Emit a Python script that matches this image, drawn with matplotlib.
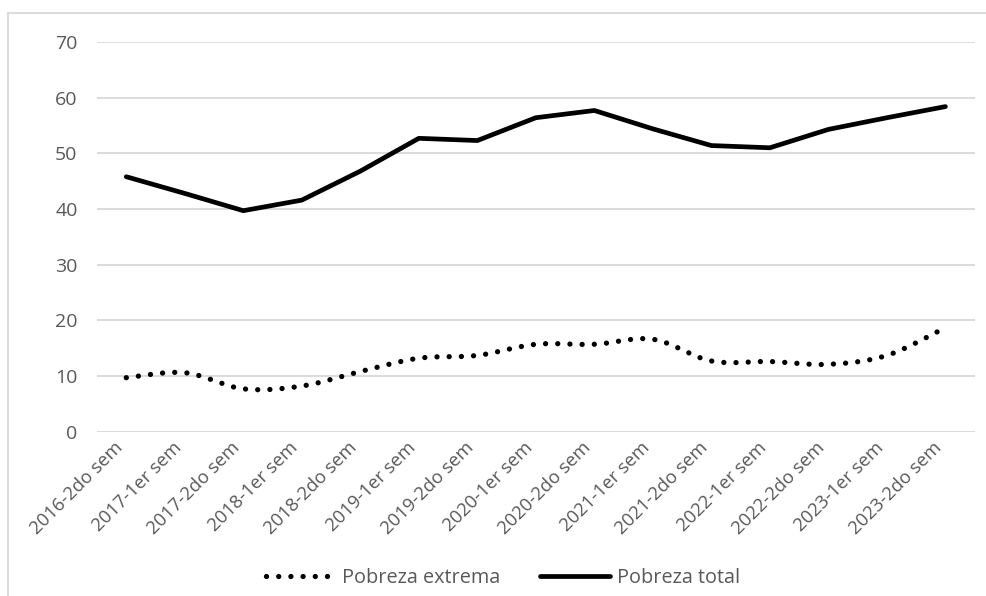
import numpy as np
import matplotlib
matplotlib.use("Agg")
import matplotlib.pyplot as plt
from matplotlib.lines import Line2D

plt.rcParams['font.family'] = ['Open Sans', 'DejaVu Sans']

categories = ["2016-2do sem", "2017-1er sem", "2017-2do sem", "2018-1er sem", "2018-2do sem",
              "2019-1er sem", "2019-2do sem", "2020-1er sem", "2020-2do sem", "2021-1er sem",
              "2021-2do sem", "2022-1er sem", "2022-2do sem", "2023-1er sem", "2023-2do sem"]
pobreza_total = [45.8, 42.8, 39.7, 41.6, 46.8, 52.7, 52.3, 56.4, 57.7, 54.4,
                 51.4, 51.0, 54.3, 56.4, 58.4]
pobreza_extrema = [9.7, 10.6, 7.7, 8.2, 10.8, 13.2, 13.7, 15.7, 15.7, 16.6,
                   12.7, 12.6, 12.1, 13.7, 18.7]
y_ticks = [0, 10, 20, 30, 40, 50, 60, 70]


def smooth(xs, ys, n=30):
    """Bezier smoothing like spreadsheet 'smoothed line' (Catmull-Rom style)."""
    P = np.column_stack([xs, ys]).astype(float)
    out = []
    m = len(P)
    for i in range(m - 1):
        p0 = P[i - 1] if i > 0 else P[i]
        p1 = P[i]
        p2 = P[i + 1]
        p3 = P[i + 2] if i + 2 < m else P[i + 1]
        c1 = p1 + (p2 - p0) / 6.0
        c2 = p2 - (p3 - p1) / 6.0
        t = np.linspace(0, 1, n, endpoint=(i == m - 2))[:, None]
        seg = ((1 - t) ** 3) * p1 + 3 * ((1 - t) ** 2) * t * c1 + 3 * (1 - t) * t ** 2 * c2 + t ** 3 * p2
        out.append(seg)
    out = np.vstack(out)
    return out[:, 0], out[:, 1]


DOT = (0, (0.01, 2.3))

fig = plt.figure(figsize=(9.86, 5.96), dpi=100)
ax = fig.add_axes([0.0984, 0.2757, 0.8901, 0.6538])

x = np.arange(len(categories))
sx, sy = smooth(x, pobreza_extrema)
ax.plot(sx, sy, color='black', lw=3.8, linestyle=DOT,
        dash_capstyle='round', solid_capstyle='round')
ax.plot(x, pobreza_total, color='black', lw=3.4, solid_capstyle='round', solid_joinstyle='round')

ax.set_xlim(-0.5, len(categories) - 0.5)
ax.set_ylim(0, 70)
ax.set_yticks(y_ticks)
ax.set_xticks(x)
ax.set_xticklabels(categories, rotation=45, ha='right', rotation_mode='default')
ax.grid(axis='y', color='#D9D9D9', lw=1.3)
ax.set_axisbelow(True)
for s in ax.spines.values():
    s.set_visible(False)
ax.tick_params(axis='both', length=0, labelsize=14, labelcolor='#595959')
ax.tick_params(axis='x', labelsize=13.3, pad=5)
ax.tick_params(axis='y', pad=14)

handles = [
    Line2D([], [], color='black', lw=3.8, linestyle=DOT, dash_capstyle='round'),
    Line2D([], [], color='black', lw=3.4, solid_capstyle='round'),
]
fig.legend(handles, ["Pobreza extrema", "Pobreza total"], loc='center',
           bbox_to_anchor=(503 / 986, 1 - 578 / 596), ncol=2, frameon=False,
           fontsize=14.3, labelcolor='#595959', handlelength=3.5, handletextpad=0.35,
           columnspacing=2.0)

# chart frame (left and top edges visible)
fig.add_artist(Line2D([8 / 986, 8 / 986], [0, 1 - 12.7 / 596], transform=fig.transFigure,
                      color='#D9D9D9', lw=1.3))
fig.add_artist(Line2D([8 / 986, 1], [1 - 12.7 / 596, 1 - 12.7 / 596], transform=fig.transFigure,
                      color='#D9D9D9', lw=1.3))

fig.savefig("out.png", dpi=100)
